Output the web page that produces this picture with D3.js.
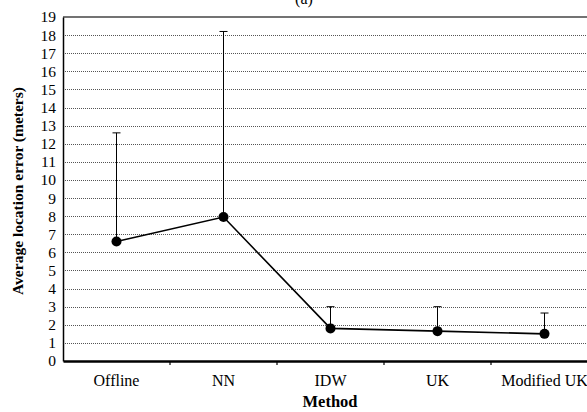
<!DOCTYPE html>
<html>
<head>
<meta charset="utf-8">
<script src="https://cdn.jsdelivr.net/npm/d3@7"></script>
<style>
  body { margin: 0; background: white; }
  svg text { font-family: "Liberation Serif", "Times New Roman", Times, "DejaVu Serif", serif !important; }
</style>
</head>
<body>
<div id="viz"></div>
<script>
// values
var methods = ['Offline', 'NN', 'IDW', 'UK', 'Modified UK'];
var meanError = [6.6, 7.95, 1.8, 1.65, 1.5];
var upperError = [12.6, 18.2, 3.0, 3.0, 2.65];
var yTicks = d3.range(0, 20);

var width = 587,
    height = 412;
var margin = ({top: 17, right: -11, bottom: 51, left: 63});

var x = d3.scaleBand()
  .domain(methods)
  .range([margin.left, width - margin.right]);

var y = d3.scaleLinear()
  .domain([0, 19])
  .range([height - margin.bottom, margin.top]);

var svg = d3.select('#viz')
  .append('svg')
  .attr('width', width)
  .attr('height', height);

// dotted grid lines
svg.append('g')
  .selectAll('line')
  .data(yTicks.filter(d => d > 0 && d < 19))
  .join('line')
  .attr('x1', margin.left)
  .attr('x2', width)
  .attr('y1', d => Math.round(y(d)) + 0.5)
  .attr('y2', d => Math.round(y(d)) + 0.5)
  .attr('stroke', '#555')
  .attr('stroke-width', 1)
  .attr('stroke-dasharray', '1,1');

// top border
svg.append('line')
  .attr('x1', margin.left)
  .attr('x2', width)
  .attr('y1', y(19))
  .attr('y2', y(19))
  .attr('stroke', '#444')
  .attr('stroke-width', 1.5);

// y axis
var yAxis = svg.append('g')
  .attr('transform', 'translate(' + margin.left + ',0)')
  .call(d3.axisLeft(y).tickValues(yTicks).tickSize(0).tickPadding(7));
yAxis.select('.domain').attr('stroke', '#000').attr('stroke-width', 1.5);
yAxis.selectAll('text')
  .attr('font-size', 15.5)
  .attr('fill', '#000');

// x axis
var xAxis = svg.append('g')
  .attr('transform', 'translate(0,' + y(0) + ')')
  .call(d3.axisBottom(x).tickSize(0).tickPadding(14));
xAxis.select('.domain').attr('stroke', '#000').attr('stroke-width', 2.5);
xAxis.selectAll('text')
  .attr('font-size', 16)
  .attr('fill', '#000');

// x ticks on band boundaries
svg.append('g')
  .selectAll('line')
  .data(methods.slice(1))
  .join('line')
  .attr('x1', d => x(d))
  .attr('x2', d => x(d))
  .attr('y1', y(0))
  .attr('y2', y(0) + 4)
  .attr('stroke', '#000')
  .attr('stroke-width', 1.2);

var cx = d => x(d) + x.bandwidth() / 2;

// error bars
var bars = svg.append('g').attr('stroke', '#000').attr('stroke-width', 1);
bars.selectAll('line.v')
  .data(methods)
  .join('line')
  .attr('class', 'v')
  .attr('x1', d => cx(d))
  .attr('x2', d => cx(d))
  .attr('y1', (d, i) => y(meanError[i]))
  .attr('y2', (d, i) => y(upperError[i]));
bars.selectAll('line.cap')
  .data(methods)
  .join('line')
  .attr('class', 'cap')
  .attr('x1', d => cx(d) - 4)
  .attr('x2', d => cx(d) + 4)
  .attr('y1', (d, i) => y(upperError[i]))
  .attr('y2', (d, i) => y(upperError[i]));

// line
svg.append('path')
  .datum(methods)
  .attr('fill', 'none')
  .attr('stroke', '#000')
  .attr('stroke-width', 1.6)
  .attr('d', d3.line().x(d => cx(d)).y((d, i) => y(meanError[i])));

// markers
svg.append('g')
  .selectAll('circle')
  .data(methods)
  .join('circle')
  .attr('cx', d => cx(d))
  .attr('cy', (d, i) => y(meanError[i]))
  .attr('r', 5)
  .attr('fill', '#000');

// title, cut at the top like the original
svg.append('text')
  .attr('x', 304)
  .attr('y', 4)
  .attr('text-anchor', 'middle')
  .attr('font-size', 16)
  .text('(a)');

// axis titles
svg.append('text')
  .attr('x', 330)
  .attr('y', 407)
  .attr('text-anchor', 'middle')
  .attr('font-size', 16.5)
  .attr('font-weight', 'bold')
  .text('Method');

svg.append('text')
  .attr('transform', 'translate(23,' + 191 + ') rotate(-90)')
  .attr('text-anchor', 'middle')
  .attr('font-size', 15.5)
  .attr('font-weight', 'bold')
  .text('Average location error (meters)');
</script>
</body>
</html>
